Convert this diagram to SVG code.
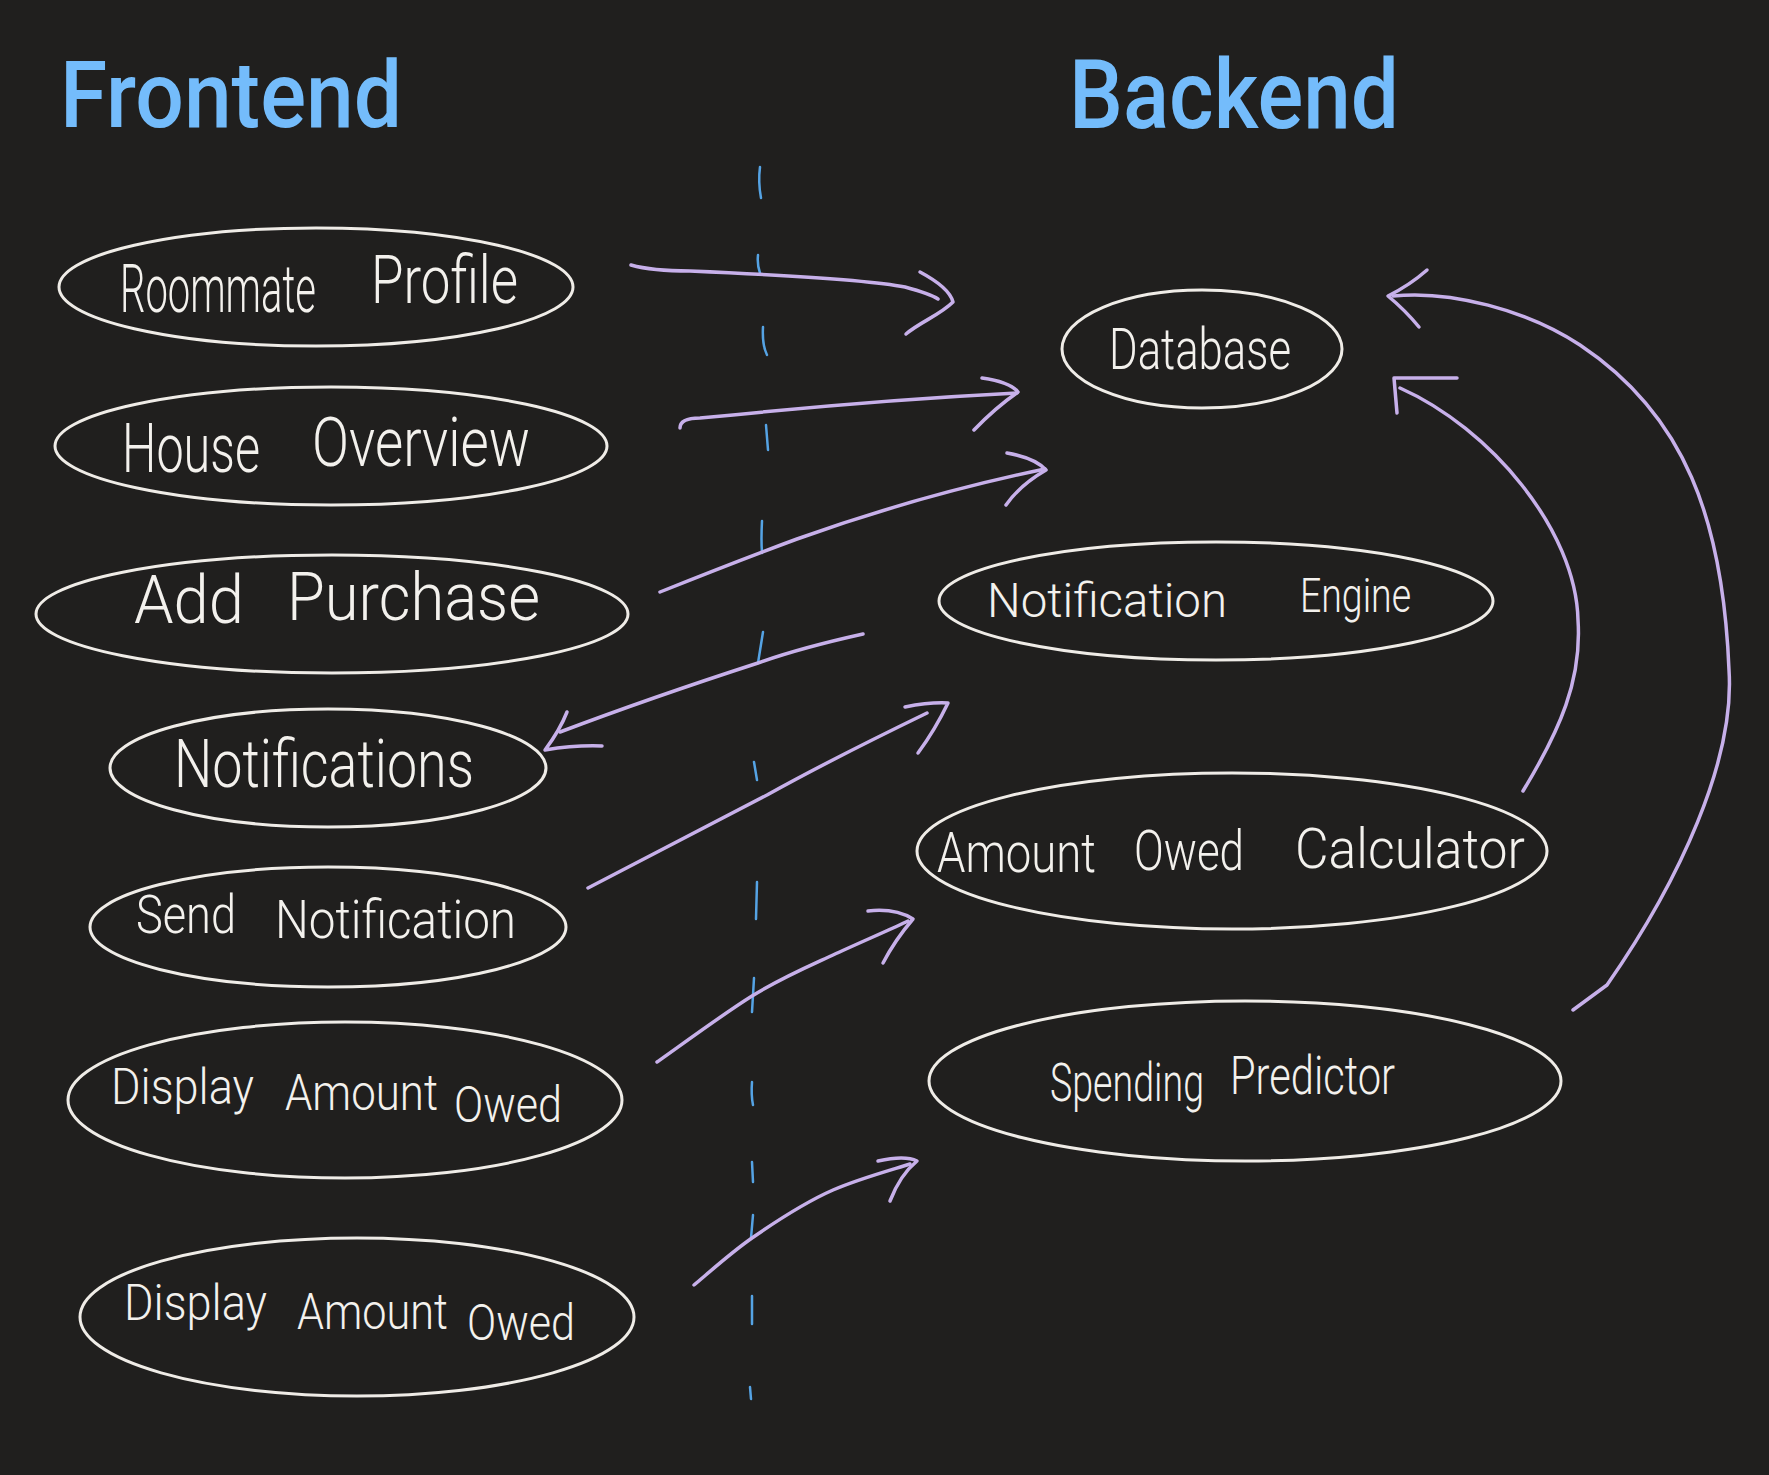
<svg xmlns="http://www.w3.org/2000/svg" width="1769" height="1475" viewBox="0 0 1769 1475">
<defs>
<style>
.node ellipse{fill:none;stroke:#efece7;stroke-width:3}
.lbl{font-family:Roboto,'Liberation Sans',sans-serif;font-weight:300;fill:#f3f1ed}
.title{font-family:Roboto,'Liberation Sans',sans-serif;font-weight:500;fill:#74bcfb}
.arr{fill:none;stroke:#c7b0ea;stroke-width:3.5;stroke-linecap:round;stroke-linejoin:round}
.dash{fill:none;stroke:#55a3e4;stroke-width:2.5;stroke-linecap:round}
</style>
</defs>
<rect width="1769" height="1475" fill="#201f1e"/>

<g id="titles">
<text class="title" x="60" y="127" font-size="92" textLength="342" lengthAdjust="spacingAndGlyphs">Frontend</text>
<text class="title" x="1069" y="128" font-size="96" textLength="330" lengthAdjust="spacingAndGlyphs">Backend</text>
</g>

<g id="divider">
<path class="dash" d="M760,167 Q758,182 761,198"/>
<path class="dash" d="M758,255 Q757,265 760,273"/>
<path class="dash" d="M763,327 Q762,345 767,355"/>
<path class="dash" d="M766,425 L768,450"/>
<path class="dash" d="M762,521 Q761,540 762,553"/>
<path class="dash" d="M763,632 L758,663"/>
<path class="dash" d="M754,762 L757,780"/>
<path class="dash" d="M757,882 L756,919"/>
<path class="dash" d="M754,978 L752,1012"/>
<path class="dash" d="M752,1082 Q751,1095 753,1105"/>
<path class="dash" d="M752,1162 L753,1182"/>
<path class="dash" d="M753,1215 L751,1238"/>
<path class="dash" d="M752,1296 L752,1324"/>
<path class="dash" d="M750,1387 L751,1399"/>
</g>

<g id="node-roommate-profile" class="node">
<ellipse cx="316" cy="287" rx="257" ry="59"/>
<text class="lbl" font-size="66" transform="translate(120,312) scale(0.65,1)" textLength="301.5" lengthAdjust="spacingAndGlyphs">Roommate</text>
<text class="lbl" font-size="66" x="371" y="303" textLength="147" lengthAdjust="spacingAndGlyphs">Profile</text>
</g>

<g id="node-house-overview" class="node">
<ellipse cx="331" cy="446" rx="276" ry="59"/>
<text class="lbl" font-size="68"><tspan x="122" y="472" textLength="138" lengthAdjust="spacingAndGlyphs">House</tspan><tspan x="312" y="466" textLength="218" lengthAdjust="spacingAndGlyphs">Overview</tspan></text>
</g>

<g id="node-add-purchase" class="node">
<ellipse cx="332" cy="614" rx="296" ry="59"/>
<text class="lbl" font-size="66"><tspan x="134" y="623" textLength="110" lengthAdjust="spacingAndGlyphs">Add</tspan><tspan x="287" y="620" textLength="253" lengthAdjust="spacingAndGlyphs">Purchase</tspan></text>
</g>

<g id="node-notifications" class="node">
<ellipse cx="328" cy="768" rx="218" ry="59"/>
<text class="lbl" font-size="66" x="174" y="787" textLength="300" lengthAdjust="spacingAndGlyphs">Notifications</text>
</g>

<g id="node-send-notification" class="node">
<ellipse cx="328" cy="927" rx="238" ry="60"/>
<text class="lbl" font-size="54"><tspan x="136" y="933" textLength="100" lengthAdjust="spacingAndGlyphs">Send</tspan><tspan x="275" y="938" textLength="241" lengthAdjust="spacingAndGlyphs">Notification</tspan></text>
</g>

<g id="node-display-amount-owed-1" class="node">
<ellipse cx="345" cy="1100" rx="277" ry="78"/>
<text class="lbl" font-size="50"><tspan x="111" y="1104" textLength="143" lengthAdjust="spacingAndGlyphs">Display</tspan><tspan x="285" y="1110" textLength="153" lengthAdjust="spacingAndGlyphs">Amount</tspan><tspan x="454" y="1122" textLength="108" lengthAdjust="spacingAndGlyphs">Owed</tspan></text>
</g>

<g id="node-display-amount-owed-2" class="node">
<ellipse cx="357" cy="1317" rx="277" ry="79"/>
<text class="lbl" font-size="50"><tspan x="124" y="1320" textLength="143" lengthAdjust="spacingAndGlyphs">Display</tspan><tspan x="297" y="1329" textLength="151" lengthAdjust="spacingAndGlyphs">Amount</tspan><tspan x="467" y="1340" textLength="108" lengthAdjust="spacingAndGlyphs">Owed</tspan></text>
</g>

<g id="node-database" class="node">
<ellipse cx="1202" cy="349" rx="140" ry="59"/>
<text class="lbl" font-size="58" x="1109" y="369" textLength="182" lengthAdjust="spacingAndGlyphs">Database</text>
</g>

<g id="node-notification-engine" class="node">
<ellipse cx="1216" cy="601" rx="277" ry="59"/>
<text class="lbl" font-size="48"><tspan x="987" y="617" textLength="240" lengthAdjust="spacingAndGlyphs">Notification</tspan><tspan x="1300" y="612" textLength="111" lengthAdjust="spacingAndGlyphs">Engine</tspan></text>
</g>

<g id="node-amount-owed-calculator" class="node">
<ellipse cx="1232" cy="851" rx="315" ry="78"/>
<text class="lbl" font-size="56"><tspan x="937" y="872" textLength="159" lengthAdjust="spacingAndGlyphs">Amount</tspan><tspan x="1134" y="870" textLength="110" lengthAdjust="spacingAndGlyphs">Owed</tspan><tspan x="1295" y="868" textLength="230" lengthAdjust="spacingAndGlyphs">Calculator</tspan></text>
</g>

<g id="node-spending-predictor" class="node">
<ellipse cx="1245" cy="1081" rx="316" ry="80"/>
<text class="lbl" font-size="54" transform="translate(1050,1101) scale(0.7,1)" textLength="220" lengthAdjust="spacingAndGlyphs">Spending</text>
<text class="lbl" font-size="54" x="1230" y="1094" textLength="165" lengthAdjust="spacingAndGlyphs">Predictor</text>
</g>

<g id="connectors">
<g id="a1">
<path class="arr" d="M631,265 C645,269 660,271 690,271 C760,274 870,280 905,287 C920,291 932,295 938,299"/>
<path class="arr" d="M920,272 C935,280 950,290 953,302 C940,315 920,322 906,334"/>
</g>
<g id="a2">
<path class="arr" d="M680,428 Q680,418 700,418 L733,415 Q880,400 1017,393"/>
<path class="arr" d="M982,378 Q1010,382 1018,392 Q995,408 974,430"/>
</g>
<g id="a3">
<path class="arr" d="M660,592 Q740,560 797,539 Q920,495 1045,469"/>
<path class="arr" d="M1007,453 Q1035,458 1046,470 Q1020,485 1006,505"/>
</g>
<g id="a4">
<path class="arr" d="M863,634 Q800,648 758,663 Q650,698 560,732"/>
<path class="arr" d="M567,712 Q560,730 545,750 Q575,745 602,746"/>
</g>
<g id="a5">
<path class="arr" d="M588,888 Q700,830 767,795 Q830,760 927,713"/>
<path class="arr" d="M905,707 Q930,702 948,703 Q935,730 918,753"/>
</g>
<g id="a6">
<path class="arr" d="M657,1062 C673,1051 723,1014 752,996 C781,978 807,967 833,955 C859,943 896,927 908,921"/>
<path class="arr" d="M868,911 Q895,908 913,919 Q895,940 883,963"/>
</g>
<g id="a7">
<path class="arr" d="M694,1285 C704,1277 729,1254 752,1238 C775,1222 808,1201 833,1190 C858,1179 891,1170 910,1164"/>
<path class="arr" d="M878,1161 Q905,1155 917,1161 Q900,1175 890,1201"/>
</g>
<g id="a8">
<path class="arr" d="M1523,791 C1560,730 1582,680 1578,620 C1576,530 1490,428 1400,388"/>
<path class="arr" d="M1397,413 L1394,378 L1457,378"/>
</g>
<g id="a9">
<path class="arr" d="M1573,1010 L1607,985 C1680,880 1735,760 1729,670 C1723,520 1685,415 1580,345 C1527,310 1450,290 1393,296"/>
<path class="arr" d="M1427,270 Q1410,285 1388,296 Q1405,310 1419,327"/>
</g>
</g>
</svg>
